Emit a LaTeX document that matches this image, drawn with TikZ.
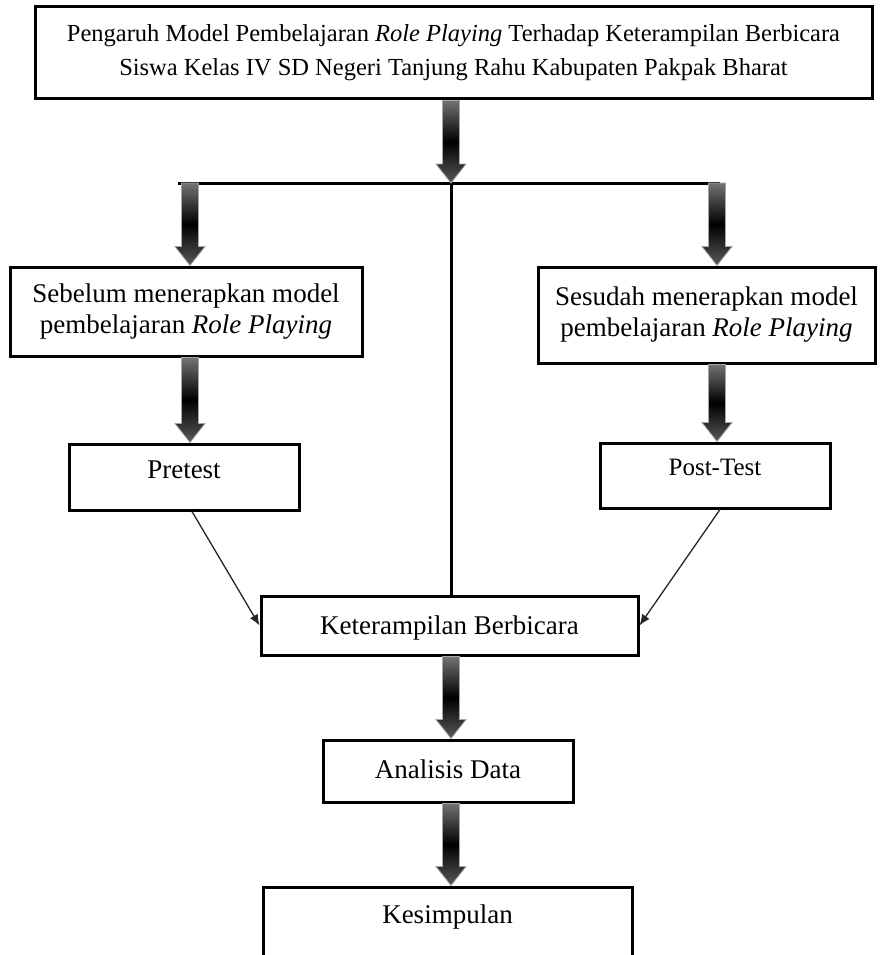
\documentclass[tikz,border=0pt]{standalone}
\usepackage{fontspec}
\setmainfont{Liberation Serif}
\usetikzlibrary{arrows.meta,calc}
\tikzset{
  box/.style={draw=black, line width=3pt, rectangle, inner sep=0pt, align=center,
    fill=white, font=\fontsize{27}{31}\selectfont},
  blockfill/.style={draw=gray!70, line width=0.8pt, top color=black!55,
    bottom color=black!65, middle color=black},
  thinarrow/.style={draw=black!85, line width=1.3pt, -{Latex[length=11pt,width=9pt]}},
  joinline/.style={line width=3pt}
}
\newcommand{\blockarr}[2]{%
  \shade[blockfill] let \p1=(#1), \p2=(#2) in
    (\x2-8.5pt,\y1) -- (\x2+8.5pt,\y1) -- (\x2+8.5pt,\y2+19pt) -- (\x2+15pt,\y2+19pt)
    -- (\x2,\y2) -- (\x2-15pt,\y2+19pt) -- (\x2-8.5pt,\y2+19pt) -- cycle;}
\begin{document}
\begin{tikzpicture}[x=1pt,y=-1pt]
\useasboundingbox (0,0) rectangle (880,955);
\clip (0,0) rectangle (880,955);
\fill[white] (0,0) rectangle (880,955);

\node[box, minimum width=837pt, minimum height=92pt, font=\fontsize{24.5}{34}\selectfont] (top) at (453.5,53)
  {Pengaruh Model Pembelajaran \textit{Role Playing} Terhadap Keterampilan Berbicara\\
   Siswa Kelas IV SD Negeri Tanjung Rahu Kabupaten Pakpak Bharat};
\node[box, minimum width=352pt, minimum height=89pt] (sb) at (186,311.5)
  {Sebelum menerapkan model\\pembelajaran \textit{Role Playing}};
\node[box, minimum width=337pt, minimum height=96pt] (ss) at (706.5,315)
  {Sesudah menerapkan model\\pembelajaran \textit{Role Playing}};
\node[box, minimum width=230pt, minimum height=66pt, text height=20pt, text depth=18pt] (pre) at (184,477) {Pretest};
\node[box, minimum width=230pt, minimum height=65pt, text height=18pt, text depth=19pt,
  font=\fontsize{25}{30}\selectfont] (post) at (715,475.5) {Post-Test};
\node[box, minimum width=377pt, minimum height=59pt, text height=20pt, text depth=3pt] (kt) at (449.5,625.5) {Keterampilan Berbicara};
\node[box, minimum width=250pt, minimum height=62pt, text height=20pt, text depth=6pt] (an) at (448,771) {Analisis Data};
\node[box, minimum width=369pt, minimum height=110pt, text height=20pt, text depth=58pt] (ks) at (447.5,942) {Kesimpulan};

\coordinate (jC) at (451,183);
\coordinate (jL) at (178,183);
\coordinate (jR) at (720,183);
\coordinate (aL) at (190,183);
\coordinate (aR) at (717,183);

\draw[joinline] (jL) -- (jR);
\draw[joinline] (jC) -- (jC |- kt.north);

\blockarr{top.south -| jC}{jC}
\blockarr{aL}{sb.north -| aL}
\blockarr{aR}{ss.north -| aR}
\blockarr{sb.south -| aL}{pre.north -| aL}
\blockarr{ss.south -| aR}{post.north -| aR}
\blockarr{kt.south -| jC}{an.north -| jC}
\blockarr{an.south -| jC}{ks.north -| jC}

\draw[thinarrow] ([xshift=8pt]pre.south) -- (kt.west);
\draw[thinarrow] ([xshift=5pt]post.south) -- (kt.east);
\end{tikzpicture}
\end{document}
